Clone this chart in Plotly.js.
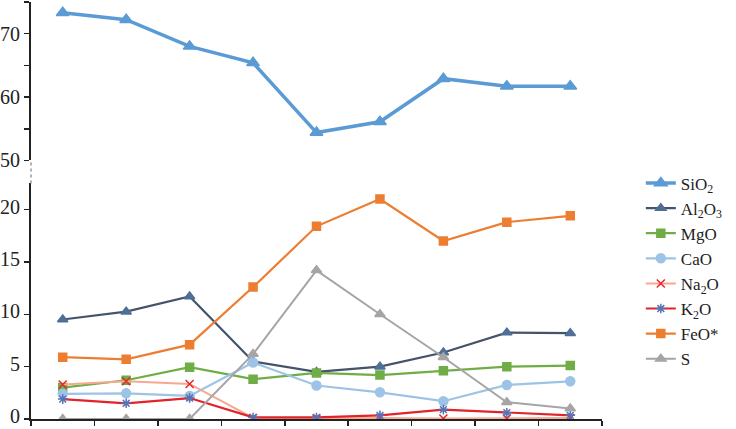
<!DOCTYPE html>
<html>
<head>
<meta charset="utf-8">
<script src="https://cdn.plot.ly/plotly-3.0.1.min.js"></script>
<style>
	body { margin: 0; background: #fff; }
	#oxideChart { width: 736px; height: 429px; }
</style>
</head>
<body>
<div id="oxideChart"></div>
<script>
// sample positions along the profile (no labels in the original)
var samples = [1, 2, 3, 4, 5, 6, 7, 8, 9];

var sio2 = [73.3, 72.2, 68.0, 65.4, 54.4, 56.1, 62.9, 61.7, 61.7];
var al2o3 = [9.5, 10.25, 11.7, 5.5, 4.5, 5.0, 6.35, 8.25, 8.2];
var mgo = [3.0, 3.7, 4.95, 3.8, 4.4, 4.2, 4.6, 5.0, 5.1];
var cao = [2.4, 2.45, 2.2, 5.4, 3.2, 2.55, 1.7, 3.25, 3.6];
var na2o = [3.3, 3.6, 3.35, 0.1, 0.05, 0.1, 0.05, 0.05, 0.1];
var k2o = [1.9, 1.5, 2.0, 0.15, 0.15, 0.35, 0.9, 0.6, 0.35];
var feo = [5.9, 5.7, 7.1, 12.6, 18.4, 21.0, 17.0, 18.8, 19.4];
var sulfur = [0, 0, 0, 6.2, 14.2, 10.0, 5.9, 1.6, 1.0];

var bandEdges = [0.5, 1.5, 2.5, 3.5, 4.5, 5.5, 6.5, 7.5, 8.5, 9.5];

function main(){
	oxideChart();
}

function makeTrace(y, name, color, symbol, size, width, axis, markerColor){
	return {
		x: samples,
		y: y,
		name: name,
		type: 'scatter',
		mode: 'lines+markers',
		yaxis: axis,
		line: {
			color: color,
			width: width
		},
		marker: {
			color: markerColor || color,
			symbol: symbol,
			size: size,
			line: { color: markerColor || color, width: 1.5 }
		}
	};
}

function yAxis(domain, range){
	return {
		domain: domain,
		range: range,
		anchor: 'x',
		showgrid: false,
		zeroline: false,
		showline: true,
		linecolor: '#222',
		linewidth: 2,
		tick0: 0,
		dtick: 5,
		ticks: 'outside',
		ticklen: 5,
		tickwidth: 1.5,
		tickcolor: '#222',
		ticklabeloverflow: 'allow',
		tickfont: { family: 'Liberation Serif, Times New Roman, serif', size: 20, color: '#222' }
	};
}

function oxideChart(){
	var data = [
		makeTrace(sio2, 'SiO<sub>2</sub>', '#5b9bd5', 'triangle-up', 11, 3.5, 'y2'),
		makeTrace(al2o3, 'Al<sub>2</sub>O<sub>3</sub>', '#44546a', 'triangle-up', 9, 2.2, 'y', '#4f6f96'),
		makeTrace(mgo, 'MgO', '#70ad47', 'square', 8, 2.2, 'y'),
		makeTrace(cao, 'CaO', '#9dc3e6', 'circle', 9, 2.2, 'y'),
		makeTrace(na2o, 'Na<sub>2</sub>O', '#f7a98f', 'x-thin-open', 8, 2, 'y', '#e8262a'),
		makeTrace(k2o, 'K<sub>2</sub>O', '#e0242a', 'asterisk-open', 8, 2.2, 'y', '#5673b5'),
		makeTrace(feo, 'FeO*', '#ed7d31', 'square', 8, 2.2, 'y'),
		makeTrace(sulfur, 'S', '#a5a5a5', 'triangle-up', 9, 2, 'y')
	];

	var lower = yAxis([0, 0.565], [0, 22.5]);
	// lift labels a touch so the "0" stays inside the picture
	lower.ticklabelshift = -3;

	var upper = yAxis([0.62, 1], [50, 75]);
	upper.tick0 = 50;
	upper.dtick = 10;
	upper.minor = { dtick: 5, ticks: 'outside', ticklen: 5, tickwidth: 1.5, tickcolor: '#222', showgrid: false };

	var layout = {
		width: 736,
		height: 429,
		margin: { l: 31, r: 134, t: 2, b: 10 },
		paper_bgcolor: '#fff',
		plot_bgcolor: '#fff',
		showlegend: true,
		xaxis: {
			range: [0.5, 9.5],
			showgrid: false,
			zeroline: false,
			showline: true,
			linecolor: '#222',
			linewidth: 2,
			tickmode: 'array',
			tickvals: bandEdges,
			ticks: 'outside',
			ticklen: 5,
			tickwidth: 1.5,
			tickcolor: '#222',
			showticklabels: false
		},
		yaxis: lower,
		yaxis2: upper,
		legend: {
			x: 1.068,
			xanchor: 'left',
			y: 0.608,
			yanchor: 'top',
			font: { family: 'Liberation Serif, Times New Roman, serif', size: 17, color: '#222' },
			bgcolor: 'rgba(0,0,0,0)',
			itemwidth: 30
		},
		shapes: [{
			// dotted axis break between the two panels
			type: 'line',
			xref: 'paper',
			yref: 'paper',
			x0: 0, x1: 0,
			y0: 0.565, y1: 0.62,
			line: { color: '#999', width: 1.5, dash: 'dot' }
		}]
	};

	Plotly.newPlot('oxideChart', data, layout, {
		displayModeBar: false,
		staticPlot: true
	});
}

main();
</script>
</body>
</html>
